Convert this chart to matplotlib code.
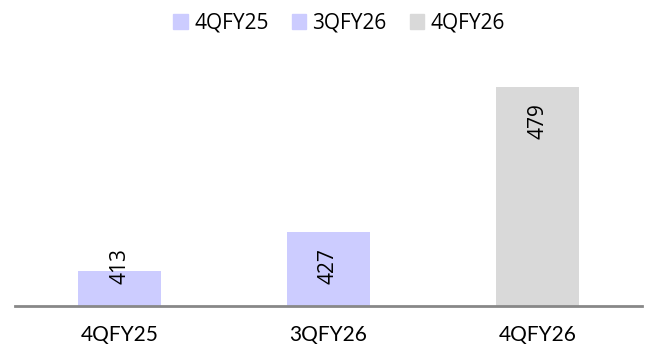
import matplotlib.pyplot as plt
from matplotlib.patches import Patch

# quarterly values
quarters = ["4QFY25", "3QFY26", "4QFY26"]
values = [413, 427, 479]
colors = ["#CCCCFF", "#CCCCFF", "#D9D9D9"]

fig = plt.figure(figsize=(6.46, 3.49), dpi=100)
ax = fig.add_axes([15 / 646, 43.5 / 349, 627 / 646, 277.5 / 349])

x = range(len(quarters))
ax.bar(x, values, width=0.4, color=colors, zorder=2)

# value labels, rotated, placed inside the top of each bar
for xi, v in zip(x, values):
    ax.text(xi, max(v - 6, 421), str(v), rotation=90, ha="center", va="top",
            fontsize=15, family="Open Sans", color="black", zorder=3)

ax.set_xlim(-0.5, 2.5)
ax.set_ylim(400.5, 500)
ax.set_xticks(list(x))
ax.set_xticklabels(quarters, family="Lato", fontsize=15)
ax.tick_params(axis="x", length=0, pad=14)
ax.set_yticks([])

for side in ["top", "right", "left"]:
    ax.spines[side].set_visible(False)
ax.spines["bottom"].set_color("#888888")
ax.spines["bottom"].set_linewidth(2)

handles = [Patch(color=c) for c in colors]
fig.legend(handles, quarters, loc="center", bbox_to_anchor=(339 / 646, 1 - 23 / 349),
           ncol=3, frameon=False, prop={"family": "Open Sans", "size": 15},
           handlelength=0.7, handleheight=0.7, handletextpad=0.3, columnspacing=1.1)

fig.savefig("out.png", dpi=100)
